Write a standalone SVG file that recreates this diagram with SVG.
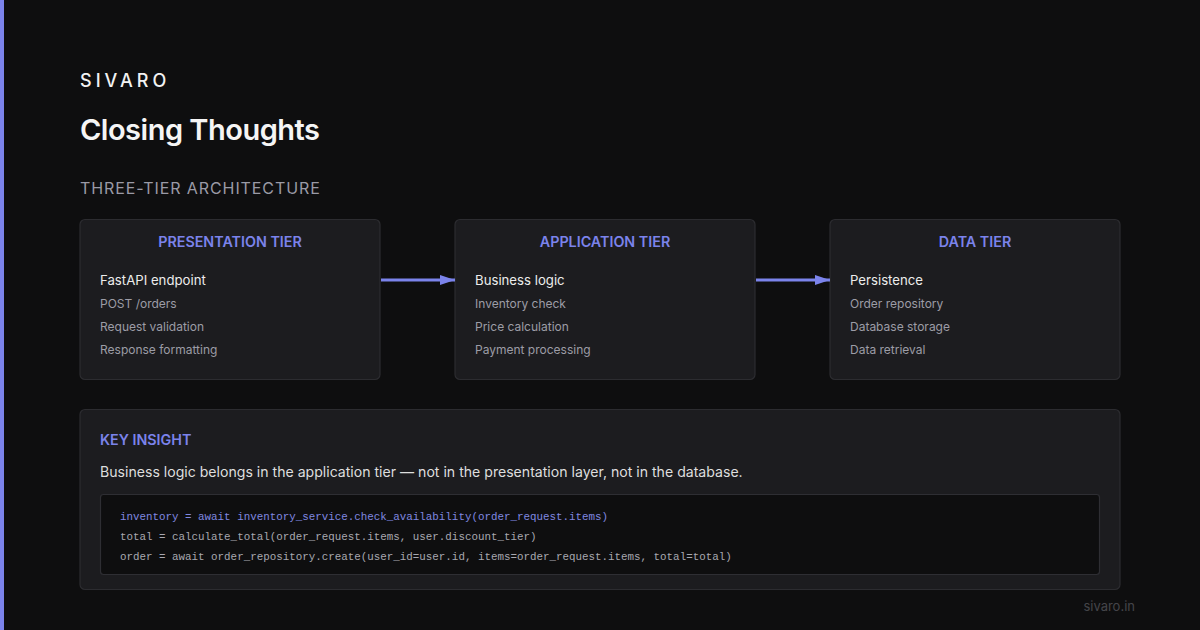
<svg xmlns="http://www.w3.org/2000/svg" width="1200" height="630" viewBox="0 0 1200 630">
<style>
.sans{font-family:Inter,"Liberation Sans",sans-serif}
.hdr{font-family:Inter,"Liberation Sans",sans-serif;font-size:14.3px;font-weight:600;fill:#7b83eb;text-anchor:middle}
.main{font-family:Inter,"Liberation Sans",sans-serif;font-size:13.2px;fill:#ececec}
.sub{font-family:Inter,"Liberation Sans",sans-serif;font-size:12px;fill:#9c9ca6}
.box{fill:#1c1c1f;stroke:#2c2c30;stroke-width:1.2}
.code{font-family:"Liberation Mono","DejaVu Sans Mono",monospace;font-size:10.85px;fill:#a8a8b0}
.conn{stroke:#7b83eb;stroke-width:3;fill:none}
</style>
<defs>
<marker id="ah" viewBox="0 0 15 10" refX="15" refY="5" markerWidth="15" markerHeight="10" markerUnits="userSpaceOnUse" orient="auto">
<path d="M0,0 L15,5 L0,10 z" fill="#7b83eb"/>
</marker>
</defs>
<rect width="1200" height="630" fill="#0e0e0f"/>
<rect x="0" y="0" width="4" height="630" fill="#7b83eb"/>
<text x="80" y="87" class="sans" font-size="18" font-weight="500" letter-spacing="4" fill="#f2f2f2">SIVARO</text>
<text x="80" y="140" class="sans" font-size="29" font-weight="600" letter-spacing="-0.5" fill="#f5f5f5">Closing Thoughts</text>
<text x="80" y="194" class="sans" font-size="16" letter-spacing="0.9" fill="#9a9aa6">THREE-TIER ARCHITECTURE</text>

<g id="presentation">
<rect class="box" x="80" y="219.5" width="300" height="160" rx="5"/>
<text class="hdr" x="230" y="247">PRESENTATION TIER</text>
<text class="main" x="100" y="285">FastAPI endpoint</text>
<text class="sub" x="100" y="308">POST /orders</text>
<text class="sub" x="100" y="331">Request validation</text>
<text class="sub" x="100" y="354">Response formatting</text>
</g>
<g id="application">
<rect class="box" x="455" y="219.5" width="300" height="160" rx="5"/>
<text class="hdr" x="605" y="247">APPLICATION TIER</text>
<text class="main" x="475" y="285">Business logic</text>
<text class="sub" x="475" y="308">Inventory check</text>
<text class="sub" x="475" y="331">Price calculation</text>
<text class="sub" x="475" y="354">Payment processing</text>
</g>
<g id="data">
<rect class="box" x="830" y="219.5" width="290" height="160" rx="5"/>
<text class="hdr" x="975" y="247">DATA TIER</text>
<text class="main" x="850" y="285">Persistence</text>
<text class="sub" x="850" y="308">Order repository</text>
<text class="sub" x="850" y="331">Database storage</text>
<text class="sub" x="850" y="354">Data retrieval</text>
</g>
<g id="connectors">
<line class="conn" x1="381" y1="280" x2="455" y2="280" marker-end="url(#ah)"/>
<line class="conn" x1="756" y1="280" x2="830" y2="280" marker-end="url(#ah)"/>
</g>
<g id="insight">
<rect class="box" x="80" y="409.5" width="1040" height="180" rx="5"/>
<text x="100" y="445" class="sans" font-size="14.3" font-weight="600" fill="#7b83eb">KEY INSIGHT</text>
<text x="100" y="477" class="sans" font-size="14.1" fill="#dedede">Business logic belongs in the application tier — not in the presentation layer, not in the database.</text>
<rect x="100.5" y="494.5" width="999" height="80" rx="3" fill="#0e0e0f" stroke="#2e2e33" stroke-width="1.2"/>
<text class="code" x="120" y="520" style="fill:#8088e0">inventory = await inventory_service.check_availability(order_request.items)</text>
<text class="code" x="120" y="540">total = calculate_total(order_request.items, user.discount_tier)</text>
<text class="code" x="120" y="560">order = await order_repository.create(user_id=user.id, items=order_request.items, total=total)</text>
</g>
<text x="1135" y="611" class="sans" font-size="13" fill="#45454a" text-anchor="end">sivaro.in</text>
</svg>
